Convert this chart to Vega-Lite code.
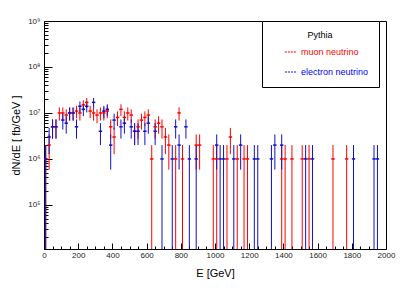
{
  "$schema": "https://vega.github.io/schema/vega-lite/v6.json",
  "width": 342,
  "height": 228,
  "autosize": {"type": "none"},
  "padding": {"left": 44, "top": 21, "right": 29, "bottom": 46},
  "background": "white",
  "config": {
    "view": {"stroke": "black", "strokeWidth": 1},
    "font": "Liberation Sans",
    "axis": {"grid": false, "domainColor": "black", "tickColor": "black", "labelColor": "#222222", "labelFont": "Liberation Sans", "titleFont": "Liberation Sans", "titleFontWeight": "normal", "labelFontSize": 8, "titleFontSize": 11}
  },
  "data": {"values": [
    {"s":"muon neutrino","E":10,"e0":0,"e1":20,"v":1000000,"lo":1,"hi":2000000},
    {"s":"muon neutrino","E":30,"e0":20,"e1":40,"v":2000000,"lo":585786,"hi":3414214},
    {"s":"muon neutrino","E":50,"e0":40,"e1":60,"v":5000000,"lo":2763932,"hi":7236068},
    {"s":"muon neutrino","E":70,"e0":60,"e1":80,"v":5000000,"lo":2763932,"hi":7236068},
    {"s":"muon neutrino","E":90,"e0":80,"e1":100,"v":10000000,"lo":6837722,"hi":13162278},
    {"s":"muon neutrino","E":110,"e0":100,"e1":120,"v":10000000,"lo":6837722,"hi":13162278},
    {"s":"muon neutrino","E":130,"e0":120,"e1":140,"v":9000000,"lo":6000000,"hi":12000000},
    {"s":"muon neutrino","E":150,"e0":140,"e1":160,"v":10000000,"lo":6837722,"hi":13162278},
    {"s":"muon neutrino","E":170,"e0":160,"e1":180,"v":10000000,"lo":6837722,"hi":13162278},
    {"s":"muon neutrino","E":190,"e0":180,"e1":200,"v":11000000,"lo":7683375,"hi":14316625},
    {"s":"muon neutrino","E":210,"e0":200,"e1":220,"v":10000000,"lo":6837722,"hi":13162278},
    {"s":"muon neutrino","E":230,"e0":220,"e1":240,"v":15000000,"lo":11127017,"hi":18872983},
    {"s":"muon neutrino","E":250,"e0":240,"e1":260,"v":17000000,"lo":12876894,"hi":21123106},
    {"s":"muon neutrino","E":270,"e0":260,"e1":280,"v":11000000,"lo":7683375,"hi":14316625},
    {"s":"muon neutrino","E":290,"e0":280,"e1":300,"v":10000000,"lo":6837722,"hi":13162278},
    {"s":"muon neutrino","E":310,"e0":300,"e1":320,"v":9000000,"lo":6000000,"hi":12000000},
    {"s":"muon neutrino","E":330,"e0":320,"e1":340,"v":10000000,"lo":6837722,"hi":13162278},
    {"s":"muon neutrino","E":350,"e0":340,"e1":360,"v":10000000,"lo":6837722,"hi":13162278},
    {"s":"muon neutrino","E":370,"e0":360,"e1":380,"v":11000000,"lo":7683375,"hi":14316625},
    {"s":"muon neutrino","E":390,"e0":380,"e1":400,"v":5000000,"lo":2763932,"hi":7236068},
    {"s":"muon neutrino","E":410,"e0":400,"e1":420,"v":3000000,"lo":1267949,"hi":4732051},
    {"s":"muon neutrino","E":430,"e0":420,"e1":440,"v":8000000,"lo":5171573,"hi":10828427},
    {"s":"muon neutrino","E":450,"e0":440,"e1":460,"v":12000000,"lo":8535898,"hi":15464102},
    {"s":"muon neutrino","E":470,"e0":460,"e1":480,"v":8000000,"lo":5171573,"hi":10828427},
    {"s":"muon neutrino","E":490,"e0":480,"e1":500,"v":10000000,"lo":6837722,"hi":13162278},
    {"s":"muon neutrino","E":510,"e0":500,"e1":520,"v":9000000,"lo":6000000,"hi":12000000},
    {"s":"muon neutrino","E":530,"e0":520,"e1":540,"v":4000000,"lo":2000000,"hi":6000000},
    {"s":"muon neutrino","E":550,"e0":540,"e1":560,"v":5000000,"lo":2763932,"hi":7236068},
    {"s":"muon neutrino","E":570,"e0":560,"e1":580,"v":7000000,"lo":4354249,"hi":9645751},
    {"s":"muon neutrino","E":590,"e0":580,"e1":600,"v":8000000,"lo":5171573,"hi":10828427},
    {"s":"muon neutrino","E":610,"e0":600,"e1":620,"v":9000000,"lo":6000000,"hi":12000000},
    {"s":"muon neutrino","E":630,"e0":620,"e1":640,"v":1000000,"lo":1,"hi":2000000},
    {"s":"muon neutrino","E":650,"e0":640,"e1":660,"v":5000000,"lo":2763932,"hi":7236068},
    {"s":"muon neutrino","E":670,"e0":660,"e1":680,"v":6000000,"lo":3550510,"hi":8449490},
    {"s":"muon neutrino","E":690,"e0":680,"e1":700,"v":5000000,"lo":2763932,"hi":7236068},
    {"s":"muon neutrino","E":710,"e0":700,"e1":720,"v":3000000,"lo":1267949,"hi":4732051},
    {"s":"muon neutrino","E":730,"e0":720,"e1":740,"v":2000000,"lo":585786,"hi":3414214},
    {"s":"muon neutrino","E":770,"e0":760,"e1":780,"v":1000000,"lo":1,"hi":2000000},
    {"s":"muon neutrino","E":790,"e0":780,"e1":800,"v":10000000,"lo":6837722,"hi":13162278},
    {"s":"muon neutrino","E":810,"e0":800,"e1":820,"v":1000000,"lo":1,"hi":2000000},
    {"s":"muon neutrino","E":890,"e0":880,"e1":900,"v":2000000,"lo":585786,"hi":3414214},
    {"s":"muon neutrino","E":910,"e0":900,"e1":920,"v":2000000,"lo":585786,"hi":3414214},
    {"s":"muon neutrino","E":990,"e0":980,"e1":1000,"v":1000000,"lo":1,"hi":2000000},
    {"s":"muon neutrino","E":1010,"e0":1000,"e1":1020,"v":1000000,"lo":1,"hi":2000000},
    {"s":"muon neutrino","E":1070,"e0":1060,"e1":1080,"v":1000000,"lo":1,"hi":2000000},
    {"s":"muon neutrino","E":1090,"e0":1080,"e1":1100,"v":3000000,"lo":1267949,"hi":4732051},
    {"s":"muon neutrino","E":1130,"e0":1120,"e1":1140,"v":1000000,"lo":1,"hi":2000000},
    {"s":"muon neutrino","E":1170,"e0":1160,"e1":1180,"v":1000000,"lo":1,"hi":2000000},
    {"s":"muon neutrino","E":1190,"e0":1180,"e1":1200,"v":1000000,"lo":1,"hi":2000000},
    {"s":"muon neutrino","E":1390,"e0":1380,"e1":1400,"v":1000000,"lo":1,"hi":2000000},
    {"s":"muon neutrino","E":1410,"e0":1400,"e1":1420,"v":1000000,"lo":1,"hi":2000000},
    {"s":"muon neutrino","E":1450,"e0":1440,"e1":1460,"v":1000000,"lo":1,"hi":2000000},
    {"s":"muon neutrino","E":1510,"e0":1500,"e1":1520,"v":1000000,"lo":1,"hi":2000000},
    {"s":"muon neutrino","E":1550,"e0":1540,"e1":1560,"v":1000000,"lo":1,"hi":2000000},
    {"s":"muon neutrino","E":1690,"e0":1680,"e1":1700,"v":1000000,"lo":1,"hi":2000000},
    {"s":"muon neutrino","E":1770,"e0":1760,"e1":1780,"v":1000000,"lo":1,"hi":2000000},
    {"s":"electron neutrino","E":10,"e0":0,"e1":20,"v":1000000,"lo":1,"hi":2000000},
    {"s":"electron neutrino","E":30,"e0":20,"e1":40,"v":3000000,"lo":1267949,"hi":4732051},
    {"s":"electron neutrino","E":50,"e0":40,"e1":60,"v":5000000,"lo":2763932,"hi":7236068},
    {"s":"electron neutrino","E":70,"e0":60,"e1":80,"v":5000000,"lo":2763932,"hi":7236068},
    {"s":"electron neutrino","E":110,"e0":100,"e1":120,"v":7000000,"lo":4354249,"hi":9645751},
    {"s":"electron neutrino","E":130,"e0":120,"e1":140,"v":6000000,"lo":3550510,"hi":8449490},
    {"s":"electron neutrino","E":150,"e0":140,"e1":160,"v":10000000,"lo":6837722,"hi":13162278},
    {"s":"electron neutrino","E":170,"e0":160,"e1":180,"v":10000000,"lo":6837722,"hi":13162278},
    {"s":"electron neutrino","E":190,"e0":180,"e1":200,"v":5000000,"lo":2763932,"hi":7236068},
    {"s":"electron neutrino","E":210,"e0":200,"e1":220,"v":14000000,"lo":10258343,"hi":17741657},
    {"s":"electron neutrino","E":230,"e0":220,"e1":240,"v":12000000,"lo":8535898,"hi":15464102},
    {"s":"electron neutrino","E":250,"e0":240,"e1":260,"v":14000000,"lo":10258343,"hi":17741657},
    {"s":"electron neutrino","E":290,"e0":280,"e1":300,"v":17000000,"lo":12876894,"hi":21123106},
    {"s":"electron neutrino","E":330,"e0":320,"e1":340,"v":4000000,"lo":2000000,"hi":6000000},
    {"s":"electron neutrino","E":350,"e0":340,"e1":360,"v":11000000,"lo":7683375,"hi":14316625},
    {"s":"electron neutrino","E":370,"e0":360,"e1":380,"v":12000000,"lo":8535898,"hi":15464102},
    {"s":"electron neutrino","E":390,"e0":380,"e1":400,"v":2000000,"lo":585786,"hi":3414214},
    {"s":"electron neutrino","E":410,"e0":400,"e1":420,"v":7000000,"lo":4354249,"hi":9645751},
    {"s":"electron neutrino","E":450,"e0":440,"e1":460,"v":5000000,"lo":2763932,"hi":7236068},
    {"s":"electron neutrino","E":470,"e0":460,"e1":480,"v":6000000,"lo":3550510,"hi":8449490},
    {"s":"electron neutrino","E":510,"e0":500,"e1":520,"v":5000000,"lo":2763932,"hi":7236068},
    {"s":"electron neutrino","E":530,"e0":520,"e1":540,"v":4000000,"lo":2000000,"hi":6000000},
    {"s":"electron neutrino","E":550,"e0":540,"e1":560,"v":4000000,"lo":2000000,"hi":6000000},
    {"s":"electron neutrino","E":590,"e0":580,"e1":600,"v":4000000,"lo":2000000,"hi":6000000},
    {"s":"electron neutrino","E":610,"e0":600,"e1":620,"v":6000000,"lo":3550510,"hi":8449490},
    {"s":"electron neutrino","E":650,"e0":640,"e1":660,"v":4000000,"lo":2000000,"hi":6000000},
    {"s":"electron neutrino","E":690,"e0":680,"e1":700,"v":1000000,"lo":1,"hi":2000000},
    {"s":"electron neutrino","E":750,"e0":740,"e1":760,"v":1000000,"lo":1,"hi":2000000},
    {"s":"electron neutrino","E":770,"e0":760,"e1":780,"v":5000000,"lo":2763932,"hi":7236068},
    {"s":"electron neutrino","E":790,"e0":780,"e1":800,"v":2000000,"lo":585786,"hi":3414214},
    {"s":"electron neutrino","E":830,"e0":820,"e1":840,"v":5000000,"lo":2763932,"hi":7236068},
    {"s":"electron neutrino","E":850,"e0":840,"e1":860,"v":1000000,"lo":1,"hi":2000000},
    {"s":"electron neutrino","E":890,"e0":880,"e1":900,"v":1000000,"lo":1,"hi":2000000},
    {"s":"electron neutrino","E":1010,"e0":1000,"e1":1020,"v":2000000,"lo":585786,"hi":3414214},
    {"s":"electron neutrino","E":1030,"e0":1020,"e1":1040,"v":1000000,"lo":1,"hi":2000000},
    {"s":"electron neutrino","E":1050,"e0":1040,"e1":1060,"v":1000000,"lo":1,"hi":2000000},
    {"s":"electron neutrino","E":1110,"e0":1100,"e1":1120,"v":1000000,"lo":1,"hi":2000000},
    {"s":"electron neutrino","E":1150,"e0":1140,"e1":1160,"v":2000000,"lo":585786,"hi":3414214},
    {"s":"electron neutrino","E":1230,"e0":1220,"e1":1240,"v":1000000,"lo":1,"hi":2000000},
    {"s":"electron neutrino","E":1250,"e0":1240,"e1":1260,"v":1000000,"lo":1,"hi":2000000},
    {"s":"electron neutrino","E":1330,"e0":1320,"e1":1340,"v":1000000,"lo":1,"hi":2000000},
    {"s":"electron neutrino","E":1350,"e0":1340,"e1":1360,"v":2000000,"lo":585786,"hi":3414214},
    {"s":"electron neutrino","E":1390,"e0":1380,"e1":1400,"v":2000000,"lo":585786,"hi":3414214},
    {"s":"electron neutrino","E":1530,"e0":1520,"e1":1540,"v":1000000,"lo":1,"hi":2000000},
    {"s":"electron neutrino","E":1570,"e0":1560,"e1":1580,"v":1000000,"lo":1,"hi":2000000},
    {"s":"electron neutrino","E":1810,"e0":1800,"e1":1820,"v":1000000,"lo":1,"hi":2000000},
    {"s":"electron neutrino","E":1930,"e0":1920,"e1":1940,"v":1000000,"lo":1,"hi":2000000},
    {"s":"electron neutrino","E":1950,"e0":1940,"e1":1960,"v":1000000,"lo":1,"hi":2000000}
  ]},
  "resolve": {"axis": {"x": "independent", "y": "independent"}},
  "layer": [
    {
      "mark": {"type": "rule", "clip": true, "strokeWidth": 1},
      "encoding": {
        "x": {"field": "E", "type": "quantitative", "scale": {"domain": [0, 2000], "nice": false, "zero": false},
              "axis": {"orient": "bottom", "title": "E [GeV]", "format": "d", "values": [0,200,400,600,800,1000,1200,1400,1600,1800,2000], "tickSize": -6, "labelPadding": 8, "labelFlush": false, "titlePadding": 8}},
        "y": {"field": "lo", "type": "quantitative", "scale": {"type": "log", "domain": [11000, 1000000000], "nice": false},
              "axis": {"orient": "left", "title": "dN/dE [ fb/GeV ]", "values": [100000,1000000,10000000,100000000,1000000000], "tickSize": -8, "labelPadding": 12, "titlePadding": 6,
                       "labelExpr": "datum.value >= 1e9 ? '10⁹' : datum.value >= 1e8 ? '10⁸' : datum.value >= 1e7 ? '10⁷' : datum.value >= 1e6 ? '10⁶' : '10⁵'"}},
        "y2": {"field": "hi"},
        "color": {"field": "s", "type": "nominal", "scale": {"domain": ["muon neutrino", "electron neutrino"], "range": ["#ff0000", "#1010c8"]},
                  "legend": {"title": "Pythia", "orient": "none", "legendX": 218, "legendY": 0, "titleAnchor": "middle", "titleFontWeight": "normal", "titleFontSize": 9, "labelFontSize": 9, "symbolType": "stroke", "symbolDash": [2, 1], "symbolStrokeWidth": 1, "symbolSize": 150, "symbolOffset": 12, "labelOffset": 3, "fillColor": "white", "strokeColor": "black", "padding": 10, "rowPadding": 8,
                             "encode": {"labels": {"update": {"fill": {"signal": "datum.value === 'muon neutrino' ? '#ff0000' : '#0000ff'"}}}}}}
      }
    },
    {
      "mark": {"type": "rule", "clip": true, "strokeWidth": 1.5},
      "encoding": {
        "x": {"field": "e0", "type": "quantitative", "scale": {"domain": [0, 2000], "nice": false, "zero": false},
              "axis": {"orient": "bottom", "title": null, "labels": false, "domain": false, "values": [50,100,150,250,300,350,450,500,550,650,700,750,850,900,950,1050,1100,1150,1250,1300,1350,1450,1500,1550,1650,1700,1750,1850,1900,1950], "tickSize": -3}},
        "x2": {"field": "e1"},
        "y": {"field": "v", "type": "quantitative", "scale": {"type": "log", "domain": [11000, 1000000000], "nice": false},
              "axis": {"orient": "left", "title": null, "labels": false, "domain": false, "tickSize": -4,
                       "values": [20000,30000,40000,50000,60000,70000,80000,90000,200000,300000,400000,500000,600000,700000,800000,900000,2000000,3000000,4000000,5000000,6000000,7000000,8000000,9000000,20000000,30000000,40000000,50000000,60000000,70000000,80000000,90000000,200000000,300000000,400000000,500000000,600000000,700000000,800000000,900000000]}},
        "color": {"field": "s", "type": "nominal"}
      }
    }
  ]
}
